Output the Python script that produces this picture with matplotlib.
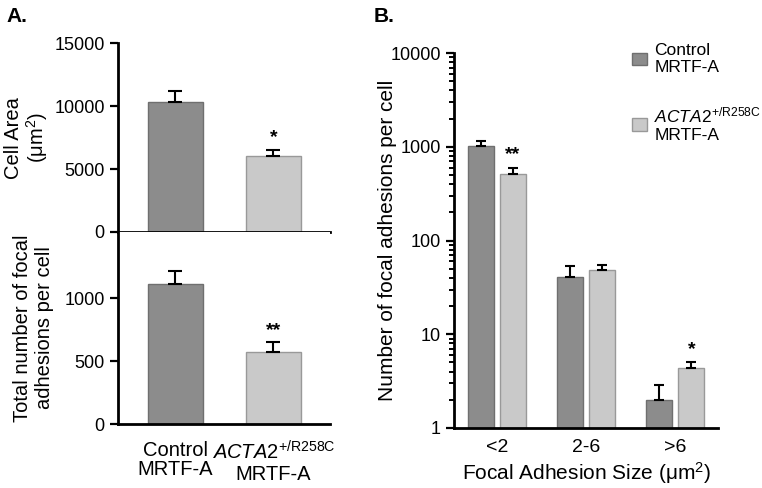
import matplotlib
matplotlib.use("Agg")
import matplotlib.pyplot as plt
import numpy as np
from matplotlib.ticker import FixedLocator, NullFormatter

plt.rcParams['font.family'] = ['Liberation Sans', 'DejaVu Sans']
plt.rcParams['mathtext.fontset'] = 'custom'
plt.rcParams['mathtext.rm'] = 'Liberation Sans'
plt.rcParams['mathtext.it'] = 'Liberation Sans:italic'
plt.rcParams['font.size'] = 13

# data
groups_a = ["Control\nMRTF-A", "$\\mathit{ACTA2}^{\\mathrm{+/R258C}}$\nMRTF-A"]
cell_area = [10350, 6050]
cell_area_err = [850, 500]
fa_total = [1115, 572]
fa_total_err = [100, 80]
stars_a = ["", "*"]
stars_a2 = ["", "**"]

sizes = ["<2", "2-6", ">6"]
fa_control = [1030, 41, 2.0]
fa_control_err = [120, 13, 0.88]
fa_acta2 = [516, 48, 4.35]
fa_acta2_err = [82, 6.5, 0.65]
stars_b = ["**", "", "*"]

dark = "#8c8c8c"
light = "#c9c9c9"
dark_edge = "#6f6f6f"
light_edge = "#999999"

fig = plt.figure(figsize=(7.62, 4.88), dpi=100)

def style(ax):
    for s in ["top", "right"]:
        ax.spines[s].set_visible(False)
    for s in ["left", "bottom"]:
        ax.spines[s].set_linewidth(2)
    ax.tick_params(axis="y", direction="out", width=1.6, length=6)
    ax.tick_params(axis="x", length=0)

# ---- A top
ax1 = fig.add_axes([0.1549, 0.5246, 0.278, 0.387])
x = np.arange(len(groups_a))
ax1.bar(x, cell_area, width=0.56, color=[dark, light], edgecolor=[dark_edge, light_edge], linewidth=1)
ax1.errorbar(x, cell_area, yerr=[np.zeros(2), cell_area_err], fmt="none", ecolor="black",
             elinewidth=1.5, capsize=5, capthick=1.5)
for i in range(2):
    if stars_a[i]:
        ax1.text(x[i], cell_area[i] + cell_area_err[i] + 300, stars_a[i], ha="center", va="bottom",
                 fontsize=14, fontweight="bold")
ax1.set_xlim(-0.587, 1.577)
ax1.set_ylim(0, 15000)
ax1.set_yticks([0, 5000, 10000, 15000])
ax1.set_xticks([])
ax1.set_ylabel("Cell Area\n(μm$^2$)", fontsize=14.5, linespacing=1.05)
ax1.yaxis.set_label_coords(-0.32, 0.5)
style(ax1)

# ---- A bottom
ax2 = fig.add_axes([0.1549, 0.1311, 0.278, 0.3934])
ax2.bar(x, fa_total, width=0.56, color=[dark, light], edgecolor=[dark_edge, light_edge], linewidth=1)
ax2.errorbar(x, fa_total, yerr=[np.zeros(2), fa_total_err], fmt="none", ecolor="black",
             elinewidth=1.5, capsize=5, capthick=1.5)
for i in range(2):
    if stars_a2[i]:
        ax2.text(x[i], fa_total[i] + fa_total_err[i] + 25, stars_a2[i], ha="center", va="bottom",
                 fontsize=14, fontweight="bold")
ax2.set_xlim(-0.587, 1.577)
ax2.set_ylim(0, 1524)
ax2.set_yticks([0, 500, 1000])
ax2.set_xticks(x)
ax2.set_xticklabels(groups_a, fontsize=14.5, linespacing=1.05)
ax2.set_ylabel("Total number of focal\nadhesions per cell", fontsize=14.5)
ax2.yaxis.set_label_coords(-0.30, 0.5)
style(ax2)
ax2.tick_params(axis="x", pad=12)

# ---- B
ax3 = fig.add_axes([0.5958, 0.123, 0.3465, 0.768])
xb = np.arange(len(sizes))
off = 0.18
w = 0.29
b1 = ax3.bar(xb - off, fa_control, width=w, color=dark, edgecolor=dark_edge, linewidth=1,
             label="Control\nMRTF-A")
b2 = ax3.bar(xb + off, fa_acta2, width=w, color=light, edgecolor=light_edge, linewidth=1,
             label="$\\mathit{ACTA2}^{\\mathrm{+/R258C}}$\nMRTF-A")
ax3.errorbar(xb - off, fa_control, yerr=[np.zeros(3), fa_control_err], fmt="none", ecolor="black",
             elinewidth=1.5, capsize=3.5, capthick=1.5)
ax3.errorbar(xb + off, fa_acta2, yerr=[np.zeros(3), fa_acta2_err], fmt="none", ecolor="black",
             elinewidth=1.5, capsize=3.5, capthick=1.5)
for i in range(3):
    if stars_b[i]:
        top = fa_acta2[i] + fa_acta2_err[i]
        ax3.text(xb[i] + off, top * 1.12, stars_b[i], ha="center", va="bottom",
                 fontsize=14, fontweight="bold")
ax3.set_yscale("log")
ax3.set_ylim(1, 10000)
ax3.set_xlim(-0.483, 2.48)
ax3.set_yticks([1, 10, 100, 1000, 10000])
ax3.set_yticklabels(["1", "10", "100", "1000", "10000"])
minors = [m * 10 ** e for e in range(0, 4) for m in range(2, 10)]
ax3.yaxis.set_minor_locator(FixedLocator(minors))
ax3.yaxis.set_minor_formatter(NullFormatter())
ax3.set_xticks(xb)
ax3.set_xticklabels(sizes, fontsize=14)
ax3.set_xlabel("Focal Adhesion Size (μm$^2$)", fontsize=15, labelpad=3)
ax3.set_ylabel("Number of focal adhesions per cell", fontsize=15)
ax3.yaxis.set_label_coords(-0.215, 0.5)
style(ax3)
ax3.tick_params(axis="y", which="minor", length=3.5, width=1.4)
ax3.tick_params(axis="x", pad=8)
fig.legend(handles=[b1, b2], loc="upper left", bbox_to_anchor=(0.829, 0.912), frameon=False,
           fontsize=12.5, handlelength=0.9, handleheight=0.75, labelspacing=1.75,
           handletextpad=0.4, borderaxespad=0, borderpad=0)

fig.text(0.008, 0.967, "A.", fontsize=15, fontweight="bold", va="center")
fig.text(0.490, 0.967, "B.", fontsize=15, fontweight="bold", va="center")

fig.savefig("out.png", dpi=100)
